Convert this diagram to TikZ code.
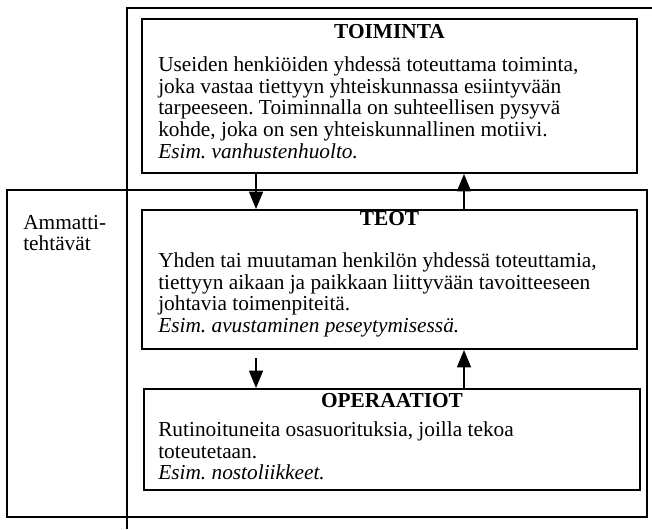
\documentclass[tikz,border=0pt]{standalone}
\usepackage{fontspec}
\setmainfont{Liberation Serif}
\usetikzlibrary{arrows.meta}
\frenchspacing
\begin{document}
\begin{tikzpicture}[x=0.75pt,y=-0.75pt,
  frame/.style={line width=1.1pt},
  box/.style={draw,line width=1.5pt,inner sep=0pt},
  title/.style={font=\fontsize{16}{16.2}\selectfont\bfseries,inner sep=0pt,anchor=base},
  body/.style={font=\fontsize{16}{16.2}\selectfont,align=left,inner sep=0pt,
    anchor=north west,execute at begin node={\rule{0pt}{11.5pt}}},
  arr/.style={line width=1.1pt,-{Triangle[length=13pt,width=10.5pt]}}]
\useasboundingbox (0,0) rectangle (652,529);

% open frame round the whole hierarchy
\draw[frame] (127,529) -- (127,8) -- (652,8);
% frame of the professional tasks
\draw[frame] (7,190) rectangle (647,517);
\node[body] (amm) at (23,214.7) {Ammatti-\\tehtävät};

% the three levels
\node[box,minimum width=371.25pt,minimum height=115.5pt] (toim) at (389.5,96) {};
\node[box,minimum width=371.25pt,minimum height=104.25pt] (teot) at (389.5,279.5) {};
\node[box,minimum width=372pt,minimum height=75.75pt] (oper) at (392,439.5) {};

\node[title] (toimt) at (389.5,38) {TOIMINTA};
\node[body] (toimb) at (158,56.7) {Useiden henkiöiden yhdessä toteuttama toiminta,\\
joka vastaa tiettyyn yhteiskunnassa esiintyvään\\
tarpeeseen. Toiminnalla on suhteellisen pysyvä\\
kohde, joka on sen yhteiskunnallinen motiivi.\\
\textit{Esim. vanhustenhuolto.}};

\node[title] (teott) at (389.5,225) {TEOT};
\node[body] (teotb) at (158,252.7) {Yhden tai muutaman henkilön yhdessä toteuttamia,\\
tiettyyn aikaan ja paikkaan liittyvään tavoitteeseen\\
johtavia toimenpiteitä.\\
\textit{Esim. avustaminen peseytymisessä.}};

\node[title] (opert) at (392,407) {OPERAATIOT};
\node[body] (operb) at (158,421.7) {Rutinoituneita osasuorituksia, joilla tekoa\\
toteutetaan.\\
\textit{Esim. nostoliikkeet.}};

% connectors between the levels
\coordinate (ax) at (256,0);
\coordinate (bx) at (464,0);
\draw[arr] (toim.south -| ax) -- (teot.north -| ax);
\draw[arr] (teot.north -| bx) -- (toim.south -| bx);
\draw[arr] ([yshift=-6pt]teot.south -| ax) -- (oper.north -| ax);
\draw[arr] (oper.north -| bx) -- (teot.south -| bx);
\end{tikzpicture}
\end{document}
